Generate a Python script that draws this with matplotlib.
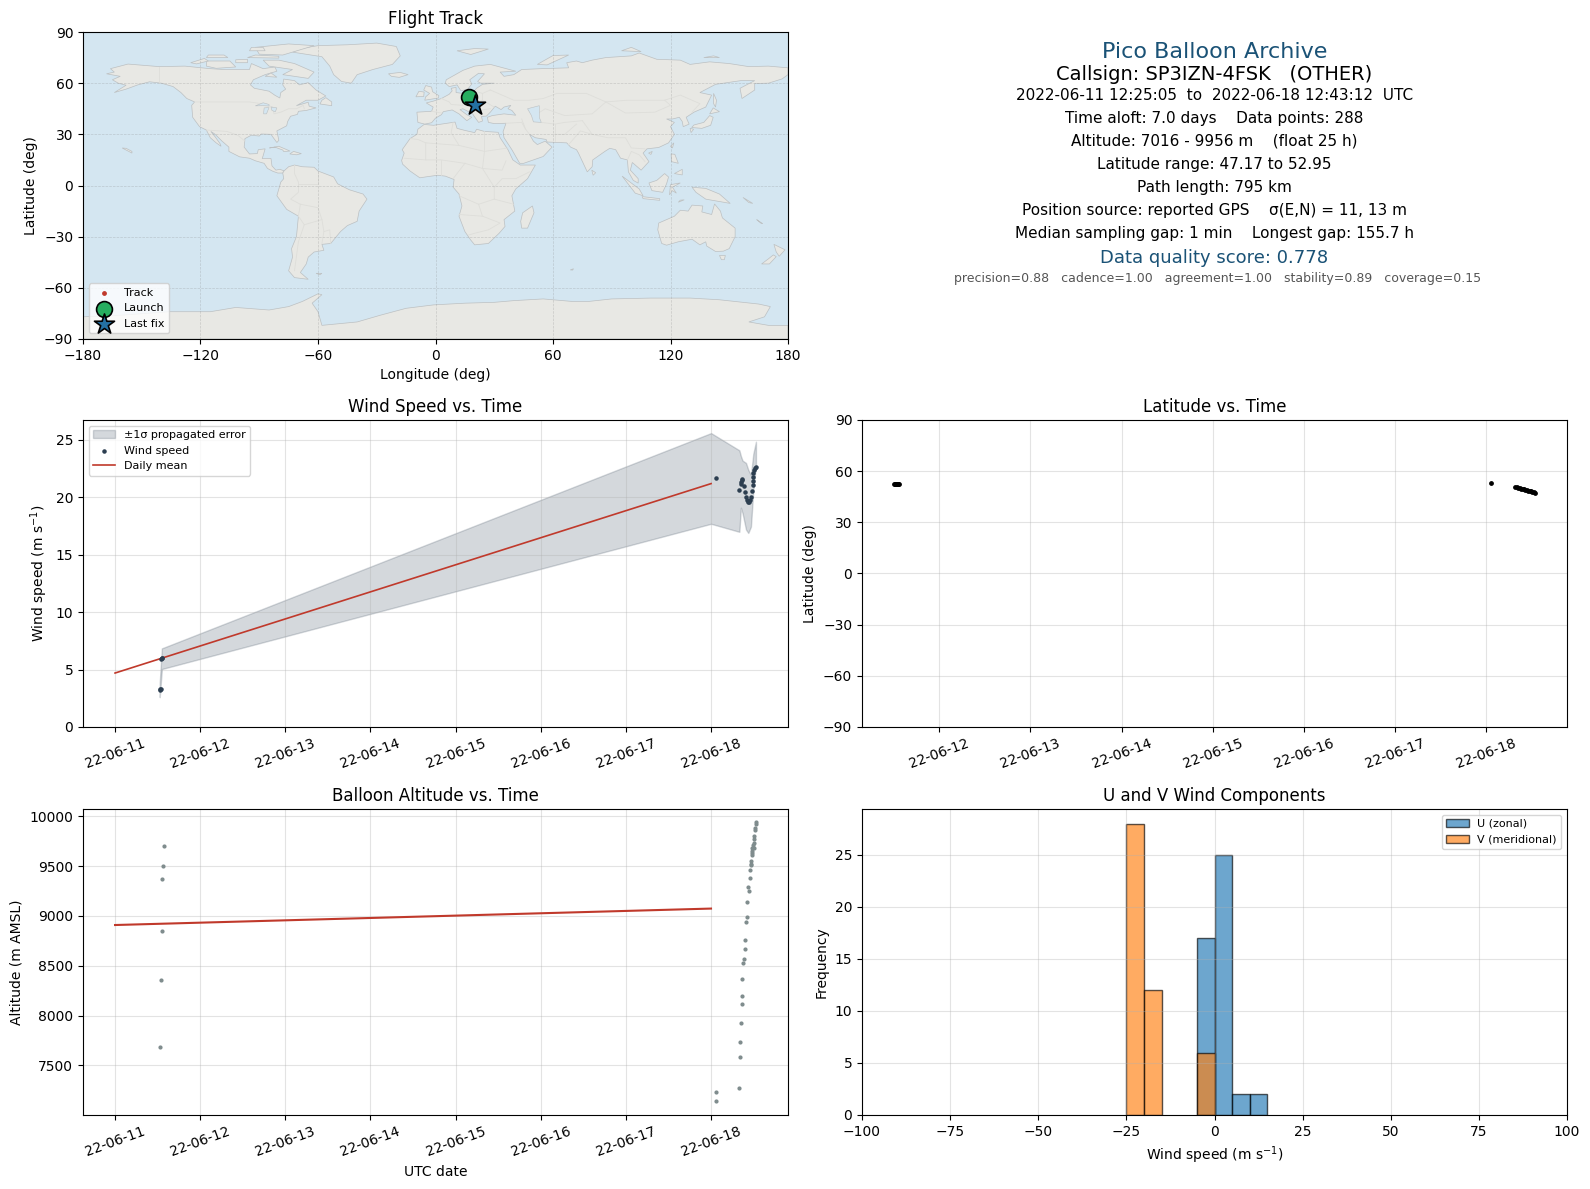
import matplotlib
matplotlib.use("Agg")
import matplotlib.pyplot as plt
import matplotlib.dates as mdates
import numpy as np
from datetime import datetime

# ---- map outlines (lon, lat), read by eye ----
north_america = [(-168,65.5),(-164,66.5),(-166,68.5),(-157,71.2),(-141,69.7),(-128,70),(-115,68.5),(-108,68),(-95,68),(-94,71.5),(-88,68.5),(-82,69.5),(-81,67),(-87,65),(-93,62),(-94.5,59),(-92.5,57),(-85,55.3),(-82,52.9),(-79.5,51.3),(-79,54.5),(-76.5,56.5),(-78,59),(-77.5,62.4),(-72,61.5),(-69.5,59),(-65,60.3),(-61,56),(-56,52.5),(-60,50),(-66,50),(-71,46.8),(-65,48.8),(-64.5,46.5),(-61,45.5),(-66,44),(-70,43.5),(-70.5,41.7),(-74,40.6),(-75.5,37.5),(-76,35),(-81,32),(-80,26.5),(-81,25.2),(-82.8,28),(-84,30),(-89,30.2),(-90,29),(-94,29.5),(-97.3,27.5),(-97.7,22.5),(-95,18.5),(-91,18.7),(-90.5,21),(-87,21.5),(-88,17.5),(-88.5,15.8),(-84,15.8),(-83.5,11.5),(-81.5,9),(-79.5,9.5),(-77.3,8.6),(-78,7.3),(-80.5,7.3),(-83,8.3),(-85.8,10),(-87.5,13),(-92,14.5),(-95,16),(-100,16.8),(-105.5,20),(-105.5,22.5),(-109,26),(-112.5,30),(-114.7,31.7),(-112.5,28.5),(-110,24.5),(-109.5,23),(-112,25),(-115,28),(-117,32.5),(-120.5,34.5),(-124,40),(-124.5,47),(-123,49),(-127,51),(-130,54.5),(-134,58),(-140,60),(-146,60.8),(-152,59),(-158,56.5),(-164,54.5),(-158,58.8),(-162,60),(-165,62),(-161,64)]
south_america = [(-77.3,8.6),(-75,11),(-72,12),(-68,11),(-62,10.7),(-60,8.5),(-52,5),(-50,1),(-44,-2.5),(-37,-5),(-35,-8),(-39,-15),(-40,-21),(-45,-23.5),(-48.5,-27),(-53.5,-34),(-58,-34.5),(-57,-38),(-62,-39),(-65,-42),(-66,-46),(-69,-51),(-65,-55),(-72,-54),(-75,-50),(-73,-42),(-73.5,-37),(-71,-30),(-70,-18),(-76,-14),(-81,-6),(-80,-2),(-79,2),(-77.5,4),(-78,7.3)]
greenland = [(-73,78.2),(-68,80.5),(-60,82),(-45,82.5),(-30,83.5),(-20,81.5),(-18,76),(-22,71),(-32,68),(-40,65),(-43,60),(-48,61),(-52,65),(-54,70),(-58,75.5)]
baffin = [(-80,73.5),(-72,71.5),(-67,69),(-62,66.5),(-65,62.8),(-72,64),(-78,65),(-73,68),(-85,70),(-88,73.5)]
victoria_isl = [(-117,73),(-105,73),(-102,69.5),(-112,68.7),(-117,70)]
ellesmere = [(-90,77),(-78,76.5),(-62,82),(-75,83),(-92,81)]
banks_isl = [(-125,72),(-118,74.5),(-116,73),(-122,71.3)]
devon_isl = [(-96,75),(-80,74.7),(-80,75.8),(-92,76.5)]
melville_isl = [(-117,75),(-106,75),(-108,76.5),(-116,76.5)]
prince_wales_isl = [(-102,72),(-96,72),(-96,74),(-102,73.7)]
axel_heiberg = [(-95,79),(-87,79),(-88,81),(-94,81)]
southampton = [(-87,64),(-81,63.5),(-84,66)]
newfoundland = [(-59,47.8),(-53,46.8),(-53,49),(-56,51.5),(-58,50)]
cuba = [(-84.8,22),(-80,23),(-74.3,20.2),(-77.5,19.9),(-78,20.8),(-82,22.5)]
hispaniola = [(-74.4,18.5),(-72.5,20),(-68.5,18.7),(-71,18)]
hawaii = [(-160,22),(-155,19),(-155,20),(-158,21.8)]
falklands = [(-61,-51.5),(-58,-51.5),(-59,-52.3)]
eurasia = [(-9,37),(-9.5,43),(-2,43.5),(-1.2,46),(-4.7,48.4),(-1,49.5),(3,51),(7,53.5),(8.5,55.5),(8,57),(10.5,57.5),(10.5,54.5),(14,54),(19,54.5),(21,57),(24,59.3),(30,60),(23,60),(21.5,61),(25,65.5),(22,65.8),(17.5,62),(18.5,59.5),(16.5,56.5),(13,55.5),(11,59),(7,58),(5,60),(5.5,62),(14,67.5),(20,70),(28,71),(41,67),(33,66.5),(35,64),(40,65),(44,68),(54,68.5),(68,69),(67,72),(72,73),(75,72),(80,73.5),(87,75),(100,76),(104,77.7),(113,74),(125,73.5),(130,71),(140,72.5),(150,71.5),(160,69.7),(170,70),(180,69),(180,65),(177,62.5),(170,60),(163,59.8),(163,56),(156.5,51),(155.5,57),(163,61.5),(156,61.5),(143,59.3),(135,54.5),(141,53),(138,46),(132,43),(128,40),(129.5,36),(126.5,34.5),(126,37.5),(124.5,40),(121,39),(118,39),(122,37),(120,34.5),(122,30),(119,25),(114,22.3),(108,21.5),(106,19),(109,14),(105,9),(103,11),(100.5,13.5),(99.5,9),(103.5,4),(103.5,1.4),(101,3),(98.5,8),(98,15),(94.5,16),(92,21),(89,21.8),(86.5,20),(80.3,15),(80,11),(77.5,8),(73,19),(72,21),(69,22.5),(67,25),(57,25.5),(56.5,27),(51,28),(48,30),(50,26),(52,24),(56,26),(59.5,22.5),(55,17),(45,13),(43,13),(39,21),(35,28),(34.5,31.5),(36,36.5),(30,36.3),(27,37),(26.5,40),(29,41),(35,42),(41,41.2),(39,44),(37,45),(38.5,47),(35,46),(33.5,44.5),(30.5,46.5),(28,43),(26,40.7),(23.5,40.5),(24,37.8),(22,37),(19.5,41),(19,42),(14,45),(12.5,44.5),(16,41.5),(18.5,40),(16,38),(12,42),(8.5,44.3),(4,43.3),(3,41.5),(0,39.5),(-2,36.8),(-5.5,36)]
africa = [(-5.8,35.8),(-1,35.3),(10,37.2),(11,33.5),(15,32.3),(20,31),(21,33),(25,31.7),(32,31.2),(33,28),(37,21),(39.5,15),(43.3,12),(51,12),(47,4),(41,-2),(39,-6),(40.5,-15),(35,-20),(35.5,-24),(32.5,-28),(27,-34),(20,-34.8),(18,-32),(15,-27),(12,-18),(13.5,-12),(12,-5),(9,-1),(9.5,3.5),(5,5.5),(1,6),(-4,5.2),(-8,4.5),(-13,8.5),(-16.8,12.5),(-17.3,14.7),(-16,19),(-17,21),(-13,27.5),(-9.5,30),(-9,33)]
australia = [(114,-22),(113.5,-26),(115.5,-34),(118,-35),(124,-33),(131,-31.5),(135,-34.8),(138,-33),(138.5,-35.5),(143,-38.7),(147,-38.5),(150,-37),(153,-30),(153,-25),(146.5,-19),(145.5,-15),(142.5,-10.8),(141,-17),(136,-15.5),(136.5,-12),(131,-11.5),(129,-15),(125,-14.5),(122,-18),(117,-20.5)]
tasmania = [(145,-41),(148,-41),(147.5,-43.5),(146,-43.5)]
nz_north = [(172.8,-34.5),(178.5,-37.7),(175.5,-41.5),(174,-39)]
nz_south = [(172.5,-40.7),(174,-41.7),(170.5,-46),(166.5,-46),(170,-43)]
new_caledonia = [(164,-20),(167,-22.3),(166,-22)]
solomons = [(157,-7),(162,-10.5),(160,-10)]
britain = [(-5.5,50),(1.5,51.3),(1.7,52.7),(-1.5,55),(-2,57.7),(-5,58.6),(-6,56),(-3,54),(-5,52)]
ireland = [(-10,52),(-6,52.2),(-5.8,54.8),(-8.5,55.2)]
iceland = [(-24,65.5),(-18,66.3),(-14,65),(-18.5,63.4),(-22.5,64)]
svalbard = [(11,79),(20,80.3),(27,80),(18,76.8)]
novaya_zemlya = [(52,71),(57,70.7),(68,76.5),(60,76.2)]
severnaya_zemlya = [(95,79),(105,78.5),(100,81)]
new_siberian = [(137,75),(145,75),(142,76)]
sakhalin = [(142,54),(143.5,50),(143,46),(142,48)]
honshu = [(130.8,34),(136,33.5),(140.5,35.3),(141.8,40),(140,41),(137,37),(132,35.5)]
hokkaido = [(140,42),(145,43.3),(141.8,45.5)]
kyushu = [(130,33.5),(131.8,33),(130.5,31)]
taiwan = [(120,23),(121.7,25),(121,22)]
luzon = [(120.3,18.5),(122.2,18.3),(124,13),(120.5,14)]
mindanao = [(122,7),(126,9.5),(126,6.2)]
hainan = [(108.8,19),(110.7,20),(110,18.2)]
sri_lanka = [(79.8,9),(81.8,7.5),(80.5,6)]
sumatra = [(95.3,5.5),(104,-2),(106,-6),(102,-4.5)]
java = [(105.5,-6.5),(114.5,-7.7),(114.5,-8.7),(106,-7.7)]
timor = [(124,-9.8),(127,-8.4),(125,-8.6)]
borneo = [(109,1.5),(113,3),(117,7),(119,5),(118,1),(116,-4),(110.5,-3)]
sulawesi = [(119.5,-5.5),(120,0.5),(125,1.5),(121,-1),(123,-4.5),(121,-3)]
new_guinea = [(131,-1),(138,-1.7),(145,-5),(150.5,-10.5),(143,-9),(138,-8),(133,-4)]
madagascar = [(49.5,-12),(50.3,-16),(47,-25),(44,-25),(43.5,-21),(44.5,-16)]
kerguelen = [(68.8,-49.5),(70.5,-48.8),(70,-49.6)]
antarctica = [(-180,-90),(-180,-77),(-160,-76),(-136,-74),(-115,-74),(-102,-71.5),(-85,-73),(-75,-71),(-68,-68),(-60,-63.5),(-58,-64),(-63,-69),(-60,-74),(-58,-82),(-40,-80),(-28,-76),(-15,-72),(-1,-70),(15,-69),(30,-68.5),(40,-67.5),(55,-66.5),(70,-68),(78,-68),(90,-66.5),(110,-66),(130,-66),(145,-67),(165,-69.5),(171,-71),(168,-77),(160,-80),(170,-82),(180,-82),(180,-90)]
land_polys = [north_america, south_america, greenland, baffin, victoria_isl, ellesmere, banks_isl, devon_isl,
              melville_isl, prince_wales_isl, axel_heiberg, southampton, newfoundland, cuba, hispaniola, hawaii,
              falklands, eurasia, africa, australia, tasmania, nz_north, nz_south, new_caledonia, solomons,
              britain, ireland, iceland, svalbard, novaya_zemlya, severnaya_zemlya, new_siberian, sakhalin,
              honshu, hokkaido, kyushu, taiwan, luzon, mindanao, hainan, sri_lanka, sumatra, java, timor, borneo,
              sulawesi, new_guinea, madagascar, kerguelen, antarctica]

caspian = [(47,45),(53,46.8),(53,40),(54,37),(50,37.3),(49,41)]
superior = [(-92,46.7),(-88,48.5),(-85,47.5),(-85,46.6),(-88,46.8)]
michigan = [(-87.8,42),(-86.3,42),(-85,45.7),(-87.5,45.5)]
huron = [(-84,46),(-81,45.5),(-81.8,43.2),(-83.5,44)]
lakes = [caspian, superior, michigan, huron]

borders = [
    [(-123,49),(-95,49),(-89,48),(-83,46),(-82.5,42),(-79,43),(-75,45),(-71,45),(-67.5,47),(-67,45)],
    [(-141,69.7),(-141,60)],
    [(-117,32.5),(-106.5,31.7),(-101,29.5),(-97.3,26)],
    [(-70,-18),(-69,-11),(-74,-8),(-70,-4),(-70,2),(-72,7),(-72,12)],
    [(-60,8),(-60,1),(-70,1)],
    [(-69,-11),(-60,-13),(-58,-20),(-57,-27),(-54,-26),(-53.5,-34)],
    [(-70,-18),(-67,-23),(-70,-33),(-72,-50)],
    [(-67,-23),(-58,-20)],
    [(-57,-27),(-58,-34)],
    [(-13,27.5),(-9,27),(-5,25),(12,23.5),(25,20),(37,22)],
    [(25,31.7),(25,20),(24,10),(34,9),(36,14.5)],
    [(9,37),(8,31),(12,23.5)],
    [(-5,25),(-5,15),(3,15),(15,13),(24,10)],
    [(-16,16),(-5,15)],
    [(3,15),(3,6)],
    [(9,4),(15,13)],
    [(24,10),(30,-1),(34,4),(41,4),(48,8)],
    [(30,-1),(30,-8),(40,-11)],
    [(12,-17),(24,-18),(33,-22),(27,-26),(20,-28),(17,-29)],
    [(24,-18),(22,-11),(12,-6)],
    [(22,-11),(30,-8)],
    [(28,56),(40,50),(48,50),(55,51),(62,54),(77,54),(87,49),(98,50),(108,50),(117,50),(125,53),(135,48),(131,43)],
    [(52,42),(56,45),(66,41),(80,42),(87,49)],
    [(75,38),(80,30),(88,28),(97,28),(100,22),(107,21.5)],
    [(87,49),(97,42.5),(112,43),(120,47),(117,50)],
    [(44,39),(46,33),(48,30)],
    [(61,36),(61,26)],
    [(54,37),(61,36),(66,37),(75,38)],
    [(61,30),(66,30),(72,36)],
    [(68,24),(74,32),(80,30)],
    [(36,36.5),(44,37),(46,33)],
    [(3,51),(7,49),(8,47.5),(14,47),(14,51),(14.5,54)],
    [(-2,43.5),(3,42.5)],
    [(24,50),(24,54),(21,55)],
    [(28,45),(22,44),(19,46),(16,48),(22,49),(24,50),(30,46)],
    [(28,56),(24,54)],
    [(98,15),(100,20),(104,18),(107,14)],
]

# ---- track ----
launch_lon, launch_lat = 17.3, 52.0
last_lon, last_lat = 20.4, 47.3
track_lon = [17.3, 17.5, 17.8, 18.5, 19.0, 19.6, 20.0, 20.4]
track_lat = [52.0, 52.2, 52.9, 50.5, 49.8, 49.0, 48.2, 47.3]

# ---- time series, days after 2022-06-11 00:00 ----
wind_days = [0.525, 0.530, 0.535, 0.545, 0.552, 0.556, 7.054, 7.328, 7.347, 7.347, 7.360, 7.363, 7.390, 7.394,
             7.410, 7.422, 7.437, 7.449, 7.461, 7.472, 7.480, 7.488, 7.492, 7.492, 7.496, 7.504, 7.511, 7.527]
wind_speed = [3.22, 3.28, 3.35, 5.95, 5.98, 6.02, 21.66, 20.64, 21.17, 21.37, 21.52, 21.63, 20.99, 20.47,
              20.00, 19.77, 19.60, 19.60, 19.77, 20.06, 20.53, 21.05, 21.46, 21.81, 22.15, 22.39, 22.56, 22.68]

band_days = [0.525, 0.550, 7.000, 7.332, 7.350, 7.370, 7.410, 7.437, 7.468, 7.496, 7.527]
band_low = [2.6, 5.05, 17.7, 17.0, 19.1, 18.6, 17.2, 16.9, 17.45, 20.6, 22.8]
band_high = [3.9, 6.85, 25.6, 24.1, 23.6, 23.2, 23.0, 22.4, 21.95, 23.8, 24.85]

mean_days = [0, 7]
mean_wind = [4.7, 21.2]
mean_alt = [8908, 9073]

alt_days = [0.524, 0.536, 0.548, 0.548, 0.559, 0.571, 7.055, 7.055, 7.324, 7.336, 7.336, 7.348, 7.360, 7.360, 7.360,
            7.371, 7.383, 7.395, 7.395, 7.406, 7.418, 7.418, 7.430, 7.442, 7.453, 7.453, 7.465, 7.469, 7.469, 7.477,
            7.477, 7.481, 7.485, 7.488, 7.500, 7.500, 7.504, 7.504, 7.512, 7.516, 7.524, 7.528]
altitude = [7682, 8354, 8845, 9366, 9496, 9696, 7231, 7144, 7271, 7582, 7732, 7923, 8113, 8193, 8363,
            8524, 8564, 8664, 8754, 8935, 8985, 9135, 9285, 9245, 9375, 9456, 9516, 9506, 9552, 9609,
            9626, 9653, 9676, 9709, 9679, 9726, 9776, 9800, 9866, 9886, 9920, 9937]

lat_days = [0.503, 0.512, 0.520, 0.528, 0.535, 0.542, 0.548, 0.553, 7.050,
            7.317, 7.335, 7.355, 7.372, 7.388, 7.402, 7.418, 7.432, 7.448, 7.462, 7.478, 7.492, 7.508, 7.522, 7.536]
lat_deg = [52.3, 52.3, 52.4, 52.4, 52.5, 52.4, 52.4, 52.3, 53.2,
           50.9, 50.6, 50.3, 50.0, 49.8, 49.5, 49.3, 49.1, 48.8, 48.6, 48.3, 48.1, 47.8, 47.5, 47.2]

# ---- histogram ----
u_edges = [-5, 0, 5, 10]
u_counts = [17, 25, 2, 2]
v_edges = [-25, -20, -5]
v_counts = [28, 12, 6]

# ---- header ----
title_line = "Pico Balloon Archive"
callsign_line = "Callsign: SP3IZN-4FSK   (OTHER)"
info_lines = ["2022-06-11 12:25:05  to  2022-06-18 12:43:12  UTC",
              "Time aloft: 7.0 days    Data points: 288",
              "Altitude: 7016 - 9956 m    (float 25 h)",
              "Latitude range: 47.17 to 52.95",
              "Path length: 795 km",
              "Position source: reported GPS    \u03c3(E,N) = 11, 13 m",
              "Median sampling gap: 1 min    Longest gap: 155.7 h"]
score_line = "Data quality score: 0.778"
score_parts = "precision=0.88   cadence=1.00   agreement=1.00   stability=0.89   coverage=0.15"

W, H = 1590, 1189
base = mdates.date2num(datetime(2022, 6, 11))


def to_dates(days):
    return base + np.array(days, dtype=float)


def make_axes(left, right, top, bottom):
    return fig.add_axes([left / W, 1 - bottom / H, (right - left) / W, (bottom - top) / H])


def date_axis(ax):
    ax.xaxis.set_major_locator(mdates.DayLocator())
    ax.xaxis.set_major_formatter(mdates.DateFormatter("%y-%m-%d"))
    ax.tick_params(axis="x", labelrotation=20)
    ax.grid(True, alpha=0.35)


fig = plt.figure(figsize=(W / 100, H / 100), dpi=100)

# Flight track
ax = make_axes(83, 788, 32, 339)
ax.set_facecolor("#d4e6f1")
for poly in land_polys:
    xs, ys = zip(*poly)
    ax.fill(xs, ys, facecolor="#e8e8e4", edgecolor="#bcc0c2", linewidth=0.5, zorder=1)
for poly in lakes:
    xs, ys = zip(*poly)
    ax.fill(xs, ys, facecolor="#d4e6f1", edgecolor="#bcc0c2", linewidth=0.4, zorder=1.1)
for line in borders:
    xs, ys = zip(*line)
    ax.plot(xs, ys, color="#dededa", linewidth=0.6, zorder=1.05)
ax.scatter(track_lon, track_lat, s=6, color="#c0392b", zorder=3, label="Track")
ax.scatter([launch_lon], [launch_lat], s=130, color="#27ae60", edgecolors="black", linewidths=1.2, zorder=4, label="Launch")
ax.scatter([last_lon], [last_lat], s=230, marker="*", color="#2471a3", edgecolors="black", linewidths=1.2, zorder=5, label="Last fix")
ax.set_xlim(-180, 180)
ax.set_ylim(-90, 90)
ax.set_xticks(np.arange(-180, 181, 60))
ax.set_yticks(np.arange(-90, 91, 30))
ax.grid(True, color="gray", linestyle="--", linewidth=0.5, alpha=0.3)
ax.set_xlabel("Longitude (deg)")
ax.set_ylabel("Latitude (deg)")
ax.set_title("Flight Track")
ax.legend(loc="lower left", fontsize=8)

# Header block
cx = 1214.5 / W
fig.text(cx, 1 - 52 / H, title_line, fontsize=16, color="#1a5276", ha="center", va="center")
fig.text(cx, 1 - 74.5 / H, callsign_line, fontsize=14, color="black", ha="center", va="center")
for i, line in enumerate(info_lines):
    fig.text(cx, 1 - (95.5 + i * 23) / H, line, fontsize=11, color="black", ha="center", va="center")
fig.text(cx, 1 - 258 / H, score_line, fontsize=13, color="#1a5276", ha="center", va="center")
fig.text(cx + 3.5 / W, 1 - 278.5 / H, score_parts, fontsize=9, color="#555555", ha="center", va="center")

# Wind speed
ax = make_axes(83, 788, 420, 727)
ax.fill_between(to_dates(band_days), band_low, band_high, color="#2c3e50", alpha=0.2, label="\u00b11\u03c3 propagated error")
ax.scatter(to_dates(wind_days), wind_speed, s=5, color="#2c3e50", zorder=3, label="Wind speed")
ax.plot(to_dates(mean_days), mean_wind, color="#c0392b", linewidth=1.2, label="Daily mean")
date_axis(ax)
ax.set_ylim(0, 26.74)
ax.set_ylabel("Wind speed (m s$^{-1}$)")
ax.set_title("Wind Speed vs. Time")
ax.legend(loc="upper left", fontsize=8)

# Latitude
ax = make_axes(862, 1567, 420, 727)
ax.scatter(to_dates(lat_days), lat_deg, s=6, color="black")
date_axis(ax)
ax.set_ylim(-90, 90)
ax.set_yticks(np.arange(-90, 91, 30))
ax.set_ylabel("Latitude (deg)")
ax.set_title("Latitude vs. Time")

# Altitude
ax = make_axes(83, 788, 809, 1115)
ax.scatter(to_dates(alt_days), altitude, s=4, color="#7f8c8d", zorder=3)
ax.plot(to_dates(mean_days), mean_alt, color="#c0392b", linewidth=1.5)
date_axis(ax)
ax.set_ylim(7002, 10072)
ax.set_xlabel("UTC date")
ax.set_ylabel("Altitude (m AMSL)")
ax.set_title("Balloon Altitude vs. Time")

# U and V components
ax = make_axes(862, 1567, 809, 1115)
ax.bar(u_edges, u_counts, width=5, align="edge", color="#1f77b4", edgecolor="black", linewidth=1, alpha=0.65, label="U (zonal)")
ax.bar(v_edges, v_counts, width=5, align="edge", color="#ff7f0e", edgecolor="black", linewidth=1, alpha=0.65, label="V (meridional)")
ax.set_xlim(-100, 100)
ax.set_ylim(0, 29.4)
ax.grid(True, alpha=0.35)
ax.set_xlabel("Wind speed (m s$^{-1}$)")
ax.set_ylabel("Frequency")
ax.set_title("U and V Wind Components")
ax.legend(loc="upper right", fontsize=8)

fig.savefig("out.png", dpi=100)
